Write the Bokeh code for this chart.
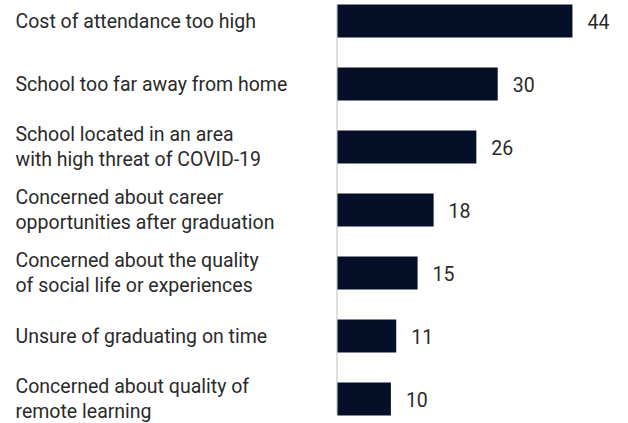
from bokeh.plotting import figure
from bokeh.models import Range1d, ColumnDataSource
from bokeh.core.properties import value
from bokeh.embed import file_html
from bokeh.resources import INLINE

categories = [
    "Cost of attendance too high",
    "School too far away from home",
    "School located in an area\nwith high threat of COVID-19",
    "Concerned about career\nopportunities after graduation",
    "Concerned about the quality\nof social life or experiences",
    "Unsure of graduating on time",
    "Concerned about quality of\nremote learning",
]
values = [44, 30, 26, 18, 15, 11, 10]
value_labels = [str(v) for v in values]

W, H = 620, 423
bar_left_px = 337.0
px_per_unit = 5.34
x_start = -bar_left_px / px_per_unit
x_end = (W - bar_left_px) / px_per_unit

n = len(categories)
row_px = 63.0
first_center_px = 20.5
y_end = (n - 1) + first_center_px / row_px
y_start = y_end - H / row_px
bar_h = 33 / row_px

ys = [n - 1 - i for i in range(n)]
src = ColumnDataSource(dict(
    y=ys,
    v=values,
    cat=categories,
    lab=value_labels,
    lx=[x_start + 15 / px_per_unit] * n,
    vx=[v + 15 / px_per_unit for v in values],
))

p = figure(width=W, height=H, output_backend="svg", toolbar_location=None,
           x_range=Range1d(x_start, x_end), y_range=Range1d(y_start, y_end),
           min_border=0)
p.axis.visible = False
p.grid.visible = False
p.outline_line_color = None
p.background_fill_color = "white"
p.border_fill_color = "white"

p.segment(x0=[-0.1], x1=[-0.1], y0=[-bar_h / 2], y1=[n - 1 + bar_h / 2],
          line_color="#dedede", line_width=2)
p.hbar(y="y", right="v", left=0, height=bar_h, source=src,
       fill_color="#051028", line_color=None)

p.text(x="lx", y="y", text="cat", source=src, text_font=value("Roboto"),
       text_font_size="19.5px", text_color="#2a2a2a", text_align="left",
       text_baseline="middle", text_line_height=1.12)
p.text(x="vx", y="y", text="lab", source=src, text_font=value("Roboto"),
       text_font_size="19.5px", text_color="#2a2a2a", text_align="left",
       text_baseline="middle")

open("out.html", "w").write(file_html(p, INLINE))
